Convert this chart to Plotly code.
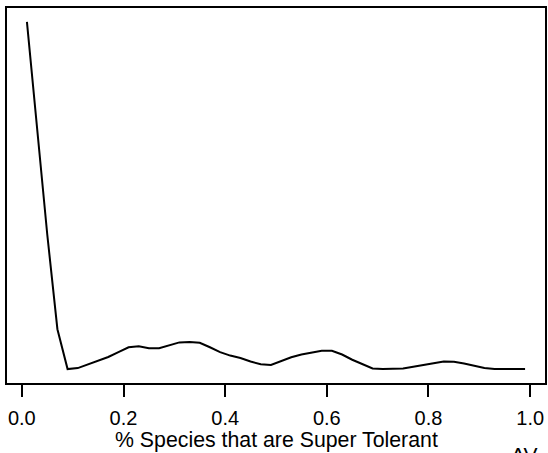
import plotly.graph_objects as go
import numpy as np

# density of % super tolerant species
pct_super_tol = np.round(np.arange(0.01, 1.0, 0.02), 2)
density = [10.01, 6.90, 3.88, 1.15, 0.00, 0.03, 0.14, 0.24, 0.35, 0.49,
           0.63, 0.66, 0.60, 0.60, 0.69, 0.77, 0.78, 0.76, 0.63, 0.49,
           0.39, 0.32, 0.22, 0.14, 0.12, 0.23, 0.34, 0.42, 0.48, 0.53,
           0.53, 0.42, 0.27, 0.14, 0.02, 0.00, 0.01, 0.02, 0.07, 0.11,
           0.17, 0.22, 0.21, 0.16, 0.09, 0.03, 0.00, 0.00, 0.00, 0.00]

tick_vals = [0.0, 0.2, 0.4, 0.6, 0.8, 1.0]
tick_text = ["0.0", "0.2", "0.4", "0.6", "0.8", "1.0"]
xlab = "% Species that are Super Tolerant"
corner = "AV"

# R style 4% padding
def pad(v):
    lo, hi = min(v), max(v)
    r = hi - lo
    return [lo - 0.04 * r, hi + 0.04 * r]

font = "Liberation Sans, Arial, sans-serif"

curve = go.Scatter(x=pct_super_tol, y=density, mode="lines",
                   line=dict(width=2, color="black"), hoverinfo="skip")

fig = go.Figure(data=[curve])

fig.update_layout(width=548, height=453,
                  margin=dict(l=7, r=1, t=8, b=70),
                  paper_bgcolor="white", plot_bgcolor="white",
                  showlegend=False,
                  font=dict(family=font, size=20, color="black"),
                  xaxis=dict(range=pad(pct_super_tol), autorange=False,
                             showgrid=False, zeroline=False,
                             showline=True, mirror=True, linecolor="black", linewidth=2,
                             ticks="outside", ticklen=12, tickwidth=2, tickcolor="black",
                             tickvals=tick_vals, ticktext=tick_text,
                             ticklabelstandoff=4,
                             tickfont=dict(size=20)),
                  yaxis=dict(range=pad(density), autorange=False,
                             showgrid=False, zeroline=False,
                             showline=True, mirror=True, linecolor="black", linewidth=2,
                             showticklabels=False, ticks=""),
                  annotations=[
                      dict(text=xlab, xref="paper", yref="paper", x=0.5, y=-0.152,
                           xanchor="center", yanchor="middle", showarrow=False,
                           font=dict(size=21.3)),
                      dict(text=corner, xref="paper", yref="paper", x=0.933, y=-0.155,
                           xanchor="left", yanchor="top", showarrow=False,
                           font=dict(size=21)),
                  ])

# page has a default body margin; drop it so the figure fills the window
fig.write_html("out.html", config={"displayModeBar": False},
               post_script="document.body.style.margin='0';")
